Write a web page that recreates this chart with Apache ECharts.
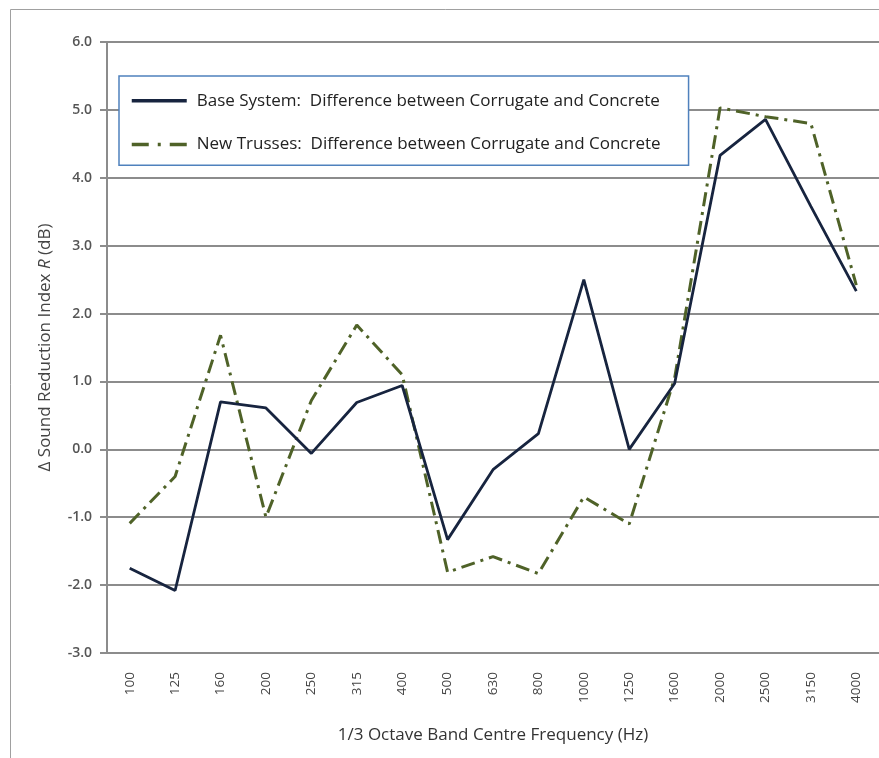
<!DOCTYPE html>
<html>
<head>
<meta charset="utf-8">
<script src="https://cdn.jsdelivr.net/npm/echarts@6/dist/echarts.min.js"></script>
<style>
html,body{margin:0;padding:0;background:#fff;}
#c{width:879px;height:758px;}
</style>
</head>
<body>
<div id="c"></div>
<script>
const categories = ['100','125','160','200','250','315','400','500','630','800','1000','1250','1600','2000','2500','3150','4000'];
const baseSystem = [-1.75,-2.08,0.70,0.61,-0.06,0.69,0.94,-1.33,-0.30,0.23,2.50,0.00,0.97,4.33,4.86,3.58,2.33];
const newTrusses = [-1.09,-0.40,1.68,-1.00,0.72,1.83,1.10,-1.81,-1.58,-1.83,-0.70,-1.10,1.05,5.03,4.90,4.80,2.42];
const seriesNames = ['Base System:  Difference between Corrugate and Concrete','New Trusses:  Difference between Corrugate and Concrete'];
const yTicks = {min:-3, max:6, interval:1};

const FONT = '"Open Sans", "Noto Sans", sans-serif';
const chart = echarts.init(document.getElementById('c'), null, {renderer:'canvas'});
chart.setOption({
  animation:false,
  backgroundColor:'#ffffff',
  graphic:[{type:'rect', left:8, top:7, shape:{width:1000, height:1000}, style:{fill:'none', stroke:'#a0a0a0', lineWidth:1}, z:-1}],
  grid:{left:107, right:-9, top:42, bottom:105, containLabel:false},
  legend:{
    orient:'vertical', left:119, top:76,
    padding:[16,28,12,11], itemGap:26,
    itemWidth:55, itemHeight:22,
    borderColor:'#4f81bd', borderWidth:1.5, backgroundColor:'#fff',
    itemStyle:{opacity:0},
    textStyle:{fontFamily:FONT, fontSize:17, color:'#222', padding:[0,0,0,5]},
    data:[
      {name:seriesNames[0], lineStyle:{width:3.5, color:'#17243f'}},
      {name:seriesNames[1], lineStyle:{width:3.5, color:'#4f6228', type:[17,9,3,9]}}
    ]
  },
  xAxis:{
    type:'category', data:categories, boundaryGap:true,
    axisLine:{show:true, lineStyle:{color:'#8c8c8c', width:2}},
    axisTick:{show:false},
    axisLabel:{rotate:90, margin:19, fontFamily:FONT, fontSize:13.5, color:'#444'},
    name:'1/3 Octave Band Centre Frequency (Hz)', nameLocation:'middle', nameGap:74,
    nameTextStyle:{fontFamily:FONT, fontSize:17, color:'#333'}
  },
  yAxis:{
    type:'value', min:yTicks.min, max:yTicks.max, interval:yTicks.interval,
    axisLine:{show:true, lineStyle:{color:'#8c8c8c', width:2}},
    axisTick:{show:true, length:7, inside:false, lineStyle:{color:'#8c8c8c', width:2}},
    splitLine:{show:true, lineStyle:{color:'#8c8c8c', width:2}},
    axisLabel:{margin:15, fontFamily:FONT, fontSize:14, fontWeight:600, color:'#555', formatter:v=>v.toFixed(1)},
    name:'{a|\u0394 Sound Reduction Index }{i|R}{a| (dB)}', nameLocation:'middle', nameGap:53,
    nameTextStyle:{rich:{a:{fontFamily:FONT, fontSize:17, color:'#444'}, i:{fontFamily:FONT, fontSize:17, color:'#444', fontStyle:'italic'}}}
  },
  series:[
    {name:seriesNames[0], type:'line', data:baseSystem, symbol:'none', color:'#17243f',
     lineStyle:{color:'#17243f', width:2.8}, z:3},
    {name:seriesNames[1], type:'line', data:newTrusses, symbol:'none', color:'#4f6228',
     lineStyle:{color:'#4f6228', width:3, type:[14,6,3,6]}, z:2}
  ]
});
</script>
</body>
</html>
